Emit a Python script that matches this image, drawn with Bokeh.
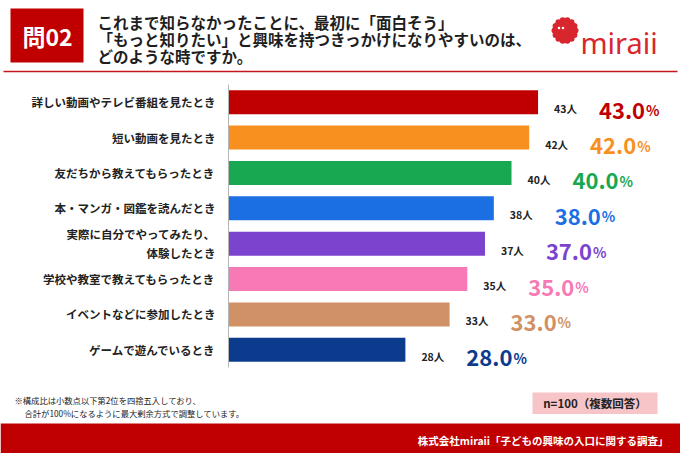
from bokeh.plotting import figure
from bokeh.models import Range1d, FactorRange, ColumnDataSource
from bokeh.embed import file_html
from bokeh.resources import INLINE
from bokeh.core.properties import value
import math

# ---- survey data ----
categories = [
    "詳しい動画やテレビ番組を見たとき",
    "短い動画を見たとき",
    "友だちから教えてもらったとき",
    "本・マンガ・図鑑を読んだとき",
    "実際に自分でやってみたり、\n体験したとき",
    "学校や教室で教えてもらったとき",
    "イベントなどに参加したとき",
    "ゲームで遊んでいるとき",
]
counts = [43, 42, 40, 38, 37, 35, 33, 28]
shares = [43.0, 42.0, 40.0, 38.0, 37.0, 35.0, 33.0, 28.0]
bar_colors = ["#c00000", "#f7901e", "#19a852", "#1c6fe3",
              "#7c43cf", "#f779b6", "#cf9165", "#0c3b8e"]

title_lines = [
    "これまで知らなかったことに、最初に「面白そう」",
    "「もっと知りたい」と興味を持つきっかけになりやすいのは、",
    "どのような時ですか。",
]
question_tag = "問02"
brand = "miraii"
notes = [
    "※構成比は小数点以下第2位を四捨五入しており、",
    "合計が100%になるように最大剰余方式で調整しています。",
]
sample_note = "n=100（複数回答）"
source_note = "株式会社miraii「子どもの興味の入口に関する調査」"

JP = value("Noto Sans CJK JP")
RED = "#c00000"
W = 680


def canvas(h, y_top, y_bottom):
    """A bare drawing area whose coordinates are pixels of the page strip."""
    p = figure(width=W, height=h, x_range=Range1d(0, W),
               y_range=Range1d(y_bottom, y_top),
               x_axis_location=None, y_axis_location=None,
               output_backend="svg", toolbar_location=None, min_border=0)
    p.grid.visible = False
    p.outline_line_color = None
    p.background_fill_color = "white"
    p.border_fill_color = "white"
    return p


# ---- header strip ----
head = canvas(76, 0, 76)
head.quad(left=10, right=83, top=8, bottom=62, fill_color=RED, line_color=None)
head.text(x=[47], y=[35.5], text=[question_tag], text_font=JP, text_font_size="23px",
          text_font_style="bold", text_color="white", text_align="center",
          text_baseline="middle")
head.text(x=[97, 97, 97], y=[21, 38, 55], text=title_lines, text_font=JP,
          text_font_size="15.5px", text_font_style="bold", text_color="#1e1e1e",
          text_align="left", text_baseline="middle")
head.line(x=[3, 677], y=[71, 71], line_color="#c8161e", line_width=1.6)

# brand mark: fuzzy red mascot + wordmark
cx, cy, r = 564.5, 30, 10.5
fx = [cx + r * math.cos(2 * math.pi * k / 14) for k in range(14)]
fy = [cy + r * math.sin(2 * math.pi * k / 14) for k in range(14)]
head.scatter(x=fx, y=fy, size=6, marker="circle", fill_color="#d7262e", line_color=None)
head.ellipse(x=[cx], y=[cy], width=22, height=22, fill_color="#d7262e", line_color=None)
head.scatter(x=[558.5, 562.5], y=[27.5, 27.5], size=2.5, fill_color="white", line_color=None)
head.text(x=[580], y=[41.5], text=[brand], text_font=value("Noto Sans"),
          text_font_size="29px", text_color="#d7262e", text_align="left",
          text_baseline="alphabetic")

# ---- bar chart ----
src = ColumnDataSource(dict(
    cat=categories,
    share=shares,
    color=bar_colors,
    count_lbl=[f"{c}人" for c in counts],
    share_lbl=[f"{s:.1f}" for s in shares],
    pct=["%"] * len(shares),
))

chart = figure(width=W, height=310,
               y_range=FactorRange(factors=categories[::-1]),
               x_range=Range1d(8, 57.75),
               x_axis_location=None,
               output_backend="svg", toolbar_location=None)
chart.min_border_left = 228
chart.min_border_right = 12
chart.min_border_top = 8
chart.min_border_bottom = 19
chart.grid.visible = False
chart.outline_line_color = None
chart.background_fill_color = "white"
chart.border_fill_color = "white"

chart.hbar(y="cat", left=0, right="share", height=0.68, fill_color="color",
           line_color=None, source=src)

chart.text(x="share", y="cat", text="count_lbl", source=src, x_offset=16, y_offset=6.5,
           text_font=JP, text_font_size="10.5px", text_font_style="bold",
           text_color="#222222", text_align="left", text_baseline="alphabetic")
chart.text(x="share", y="cat", text="share_lbl", source=src, x_offset=107, y_offset=8,
           text_font=JP, text_font_size="22px", text_font_style="bold",
           text_color="color", text_align="right", text_baseline="alphabetic")
chart.text(x="share", y="cat", text="pct", source=src, x_offset=108, y_offset=8,
           text_font=JP, text_font_size="14px", text_font_style="bold",
           text_color="color", text_align="left", text_baseline="alphabetic")

ax = chart.yaxis[0]
ax.axis_line_color = "#b5b5b5"
ax.axis_line_width = 1
ax.major_tick_line_color = None
ax.minor_tick_line_color = None
ax.major_tick_out = 0
ax.major_label_standoff = 13
ax.major_label_text_font = "Noto Sans CJK JP"
ax.major_label_text_font_size = "11.5px"
ax.major_label_text_font_style = "bold"
ax.major_label_text_color = "#222222"

# ---- footer strip ----
foot = canvas(67, 386, 453)
foot.text(x=[14, 24], y=[399.5, 412.5], text=notes, text_font=JP, text_font_size="8.3px",
          text_color="#222222", text_align="left", text_baseline="middle")
foot.quad(left=532, right=657, top=392, bottom=413.5, fill_color="#f7c4c8", line_color=None)
foot.text(x=[594.5], y=[402.5], text=[sample_note], text_font=JP, text_font_size="11.5px",
          text_font_style="bold", text_color="#222222", text_align="center",
          text_baseline="middle")
foot.quad(left=0, right=W, top=423, bottom=453, fill_color=RED, line_color=None)
foot.text(x=[668], y=[439.5], text=[source_note], text_font=JP, text_font_size="10.5px",
          text_font_style="bold", text_color="white", text_align="right",
          text_baseline="middle")

# three independent roots stacked on the page
open("out.html", "w").write(file_html([head, chart, foot], INLINE))
